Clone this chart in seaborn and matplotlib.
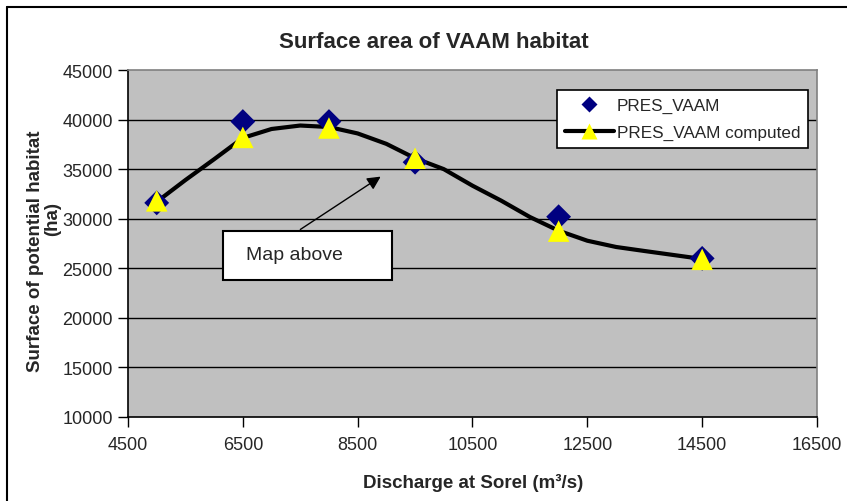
import matplotlib
matplotlib.use("Agg")
import matplotlib.pyplot as plt
from matplotlib.lines import Line2D
from matplotlib.patches import Rectangle
import seaborn as sns
import pandas as pd

# Observed habitat surface (ha) at each discharge
discharge_obs = [5000, 6500, 8000, 9500, 12000, 14500]
surface_obs = [31600, 39800, 39800, 35700, 30200, 26000]

# Model curve: dense trace and the values at the simulated discharges
discharge_curve = [5000, 5500, 6000, 6500, 7000, 7500, 8000, 8500, 9000, 9500,
                   10000, 10500, 11000, 11500, 12000, 12500, 13000, 13500, 14000, 14500]
surface_curve = [31700, 33900, 36000, 38150, 39050, 39400, 39250, 38600, 37550, 36100,
                 35000, 33330, 31820, 30170, 28790, 27780, 27150, 26740, 26340, 25940]
discharge_comp = [5000, 6500, 8000, 9500, 12000, 14500]
surface_comp = [31800, 38200, 39150, 36100, 28750, 25900]

x_ticks = [4500, 6500, 8500, 10500, 12500, 14500, 16500]
y_ticks = [10000, 15000, 20000, 25000, 30000, 35000, 40000, 45000]

sns.set_theme(style="white")
plt.rcParams["font.family"] = ["Liberation Sans", "DejaVu Sans"]

W, H = 847, 502
fig = plt.figure(figsize=(W / 100, H / 100), dpi=100)
fig.patch.set_facecolor("white")

# plot area in pixel terms
L, R, T, B = 128, 817, 71, 418
ax = fig.add_axes([L / W, 1 - B / H, (R - L) / W, (B - T) / H])
ax.set_facecolor("#C0C0C0")

ax.set_xlim(4500, 16500)
ax.set_ylim(10000, 45000)
ax.set_xticks(x_ticks)
ax.set_yticks(y_ticks)
ax.set_xticklabels([str(v) for v in x_ticks], fontsize=13)
ax.set_yticklabels([str(v) for v in y_ticks], fontsize=13)
ax.tick_params(axis="both", direction="out", length=7, width=1, color="black",
               bottom=True, left=True, pad=4)
ax.tick_params(axis="x", pad=7)

for yv in y_ticks[1:-1]:
    ax.axhline(yv, color="black", lw=1, zorder=1)

for side in ("left", "bottom"):
    ax.spines[side].set_color("black")
    ax.spines[side].set_linewidth(1.2)
for side in ("top", "right"):
    ax.spines[side].set_color("#808080")
    ax.spines[side].set_linewidth(1.2)

curve_df = pd.DataFrame({"q": discharge_curve, "s": surface_curve})
sns.lineplot(data=curve_df, x="q", y="s", color="black", lw=3, ax=ax,
             zorder=3, legend=False)

obs_df = pd.DataFrame({"q": discharge_obs, "s": surface_obs})
sns.scatterplot(data=obs_df, x="q", y="s", marker="D", s=160, color="#000080",
                edgecolor="none", ax=ax, zorder=4, legend=False)

comp_df = pd.DataFrame({"q": discharge_comp, "s": surface_comp})
sns.scatterplot(data=comp_df, x="q", y="s", marker="^", s=240, color="#FFFF00",
                edgecolor="none", ax=ax, zorder=5, legend=False)

ax.set_xlabel("")
ax.set_ylabel("")

handles = [
    Line2D([], [], ls="none", marker="D", color="#000080", markersize=8,
           markeredgecolor="none"),
    Line2D([], [], ls="-", lw=3, color="black", marker="^", markersize=11,
           markerfacecolor="#FFFF00", markeredgecolor="none"),
]
leg = ax.legend(handles, ["PRES_VAAM", "PRES_VAAM computed"],
                loc="upper right", bbox_to_anchor=(808 / W, 1 - 91 / H),
                bbox_transform=fig.transFigure, fontsize=12.3, frameon=True,
                fancybox=False, framealpha=1, edgecolor="black",
                borderaxespad=0, handlelength=2.9, handletextpad=0.15,
                borderpad=0.45, labelspacing=0.7)
leg.get_frame().set_linewidth(1.2)
leg.set_zorder(10)

# Titles and axis labels
fig.text(434 / W, 1 - 42 / H, "Surface area of VAAM habitat", ha="center",
         va="center", fontsize=16, fontweight="bold")
fig.text(473 / W, 1 - 483 / H, "Discharge at Sorel (m³/s)", ha="center",
         va="center", fontsize=13.5, fontweight="bold")
fig.text(36 / W, 1 - 251 / H, "Surface of potential habitat", rotation=90,
         ha="center", va="center", fontsize=13.5, fontweight="bold")
fig.text(53 / W, 1 - 219 / H, "(ha)", rotation=90, ha="center", va="center",
         fontsize=13.5, fontweight="bold")

# Callout box with arrow
bx0, by0, bx1, by1 = 223, 232, 392, 281
fig.patches.append(Rectangle((bx0 / W, 1 - by1 / H), (bx1 - bx0) / W,
                             (by1 - by0) / H, transform=fig.transFigure,
                             facecolor="white", edgecolor="black", lw=1.5,
                             zorder=6))
fig.text(246 / W, 1 - 256 / H, "Map above", ha="left", va="center",
         fontsize=14, zorder=7)
ax.annotate("", xy=(8941, 34400), xycoords="data",
            xytext=(298 / W, 1 - 232 / H), textcoords="figure fraction",
            arrowprops=dict(arrowstyle="-|>", color="black", lw=1,
                            mutation_scale=20), zorder=6)

# Outer frame of the chart
fig.add_artist(Line2D([7 / W, 7 / W], [0, 1 - 8 / H], transform=fig.transFigure,
                      color="black", lw=1.5))
fig.add_artist(Line2D([7 / W, 1], [1 - 8 / H, 1 - 8 / H], transform=fig.transFigure,
                      color="black", lw=1.5))

fig.savefig("out.png", dpi=100, facecolor="white")
